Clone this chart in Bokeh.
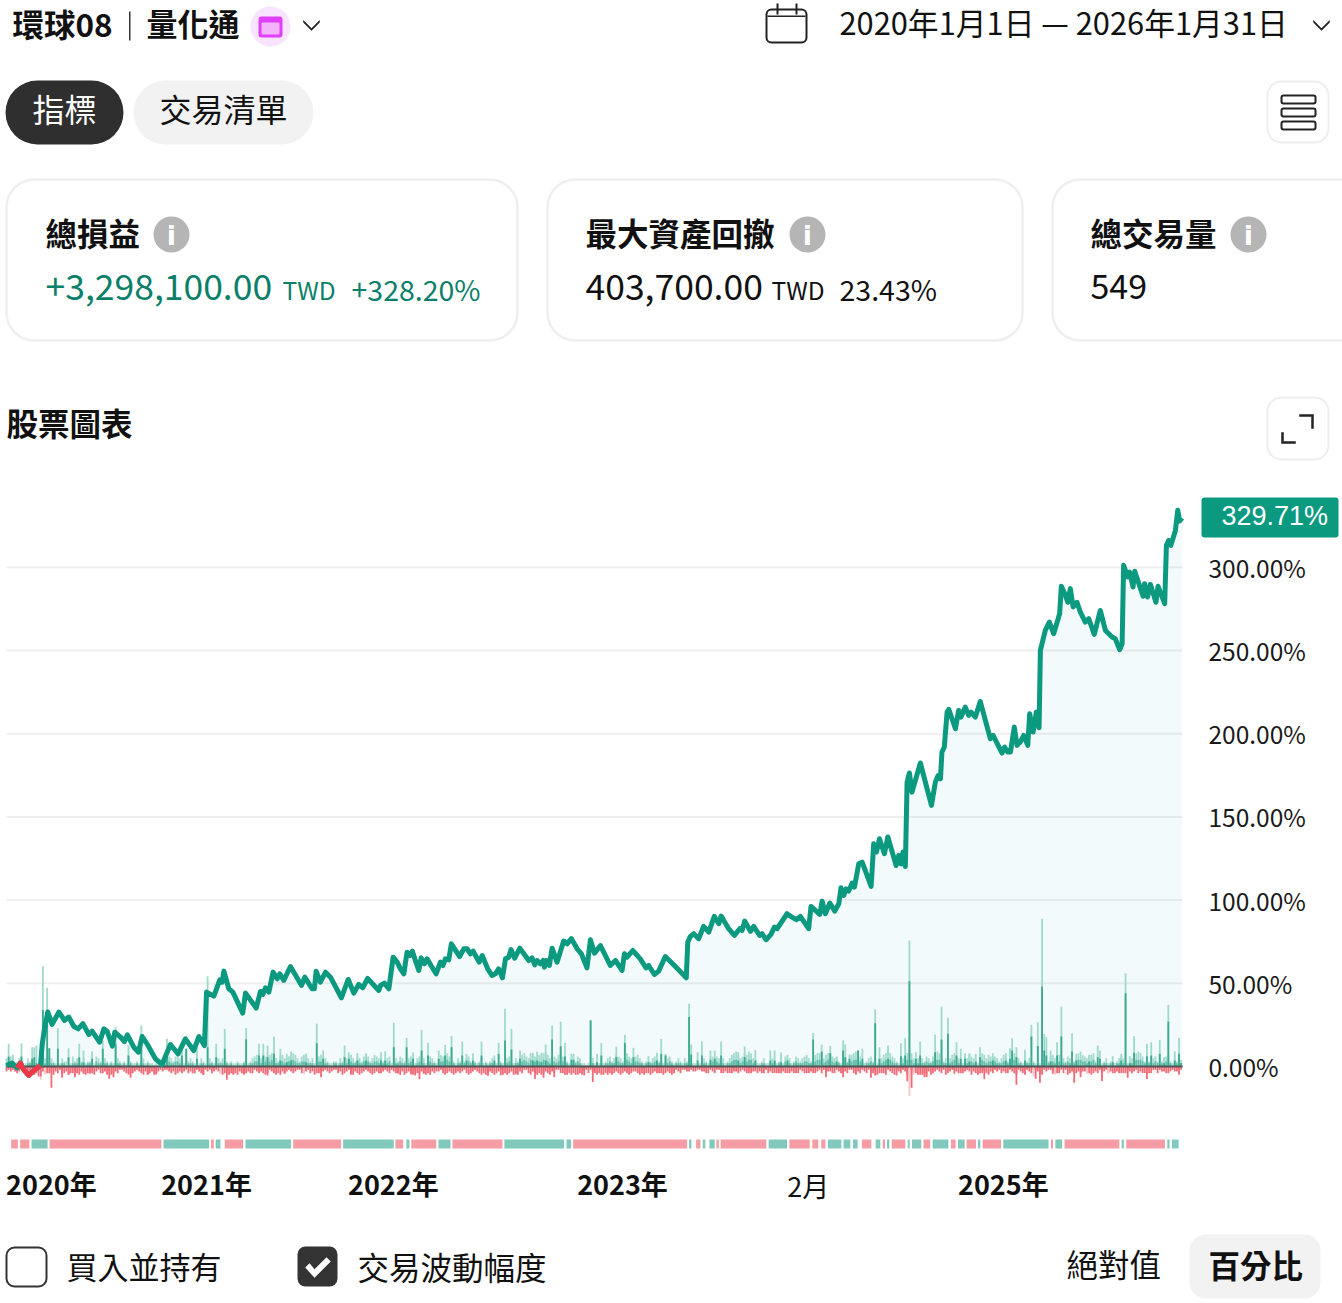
from bokeh.embed import file_html
from bokeh.models import (BoxAnnotation, FixedTicker, Label, PolyAnnotation,
                          PrintfTickFormatter, Range1d)
from bokeh.plotting import figure
from bokeh.resources import INLINE

# return curve, x = trade number, y = percent
line_x = [0, 2.6, 5, 6.5, 8.1, 10.4, 12.8, 15.9, 16.7, 17.9, 19.3, 21.3, 24.5, 27.1, 29.1, 31.5, 33.5, 35.7, 38.5, 40,
          43.5, 45.5, 47, 49.5, 50.6, 53.3, 55.1, 56.5, 59.5, 61.7, 63.4, 65.7, 69.6, 72.7, 76.6, 80.2, 83.6, 87.5, 89.9, 92.5,
          93.5, 96.9, 99.7, 100.8, 101.6, 103.9, 105.8, 110.4, 111.7, 116.7, 118.7, 119.8, 121, 122.6, 124.6, 126.5, 127.7, 129.6, 132.7, 137.9,
          139.4, 142.8, 143.9, 144.7, 146.7, 149.1, 151.4, 153.7, 156.5, 159.7, 162.3, 164.6, 166.5, 168.8, 174, 174.8, 176.6, 178.7, 180.7, 182.6,
          184.1, 185.7, 187.2, 188.5, 189.7, 191.1, 192.7, 193.8, 195.3, 196.6, 198.4, 200.8, 202.8, 204, 205.1, 206.7, 207.9, 211.8, 213.7, 215.3,
          216.8, 218.1, 220.9, 222.3, 224.9, 226.9, 228.5, 230, 231.8, 233.2, 234.7, 235.8, 237.5, 239.9, 244.1, 245.6, 246.9, 248, 249.5, 250.8,
          251.4, 252.2, 253.7, 255, 257.3, 260.4, 262, 264, 266.7, 268.7, 271.3, 272.9, 274.8, 276, 277.6, 282.2, 284.6, 287.7, 288.8, 290,
          292.7, 296.2, 298.9, 300.1, 302.8, 304.8, 307.9, 312.6, 317.7, 318.4, 319.6, 321.2, 323.5, 325.8, 328.2, 330.8, 332.9, 334, 337.5, 340.2,
          342.7, 343.8, 345, 347.7, 349.2, 352, 353.1, 355, 357.3, 358.9, 360.1, 361.7, 364.8, 367.1, 369.1, 371, 374.9, 376, 380.1, 381.2,
          382.7, 384.8, 387.1, 389, 390, 391.3, 392.4, 393.6, 395.2, 396.3, 398.3, 399.9, 404.1, 405.3, 406.6, 408, 410.3, 411.9, 415.8, 417,
          418.1, 419, 420.1, 420.9, 422, 423.2, 427.1, 432.3, 434.1, 435.4, 436.5, 437.2, 438.3, 439.6, 440.4, 443.5, 445, 446.1, 448.1, 449.7,
          450.8, 452.8, 455.1, 457.5, 459.8, 461.1, 465.3, 466.5, 467.9, 469.2, 471, 472.3, 473.8, 475.4, 477.3, 478.2, 479.8, 481.3, 482.6, 483.2,
          485.5, 487.4, 489.4, 492.2, 493, 494.9, 496, 497.2, 498.5, 500.3, 501.9, 504.2, 505.8, 508.4, 511.2, 513.6, 516.7, 518.2, 520.3, 521.4,
          522.1, 524, 524.9, 526.5, 527.3, 531.2, 531.9, 533.3, 534.6, 537.2, 538.2, 541.3, 542.1, 543.2, 544.2, 546.3, 547.4, 548.3, 549.4]
line_pct = [0.6, 2, -0.8, 2, -2, -5.4, -2.4, 0.6, 13.6, 23.6, 32.7, 25.3, 32.7, 27.7, 29.7, 24, 22.6, 25.7, 19.2, 21.2,
            14.6, 22.6, 21.2, 12.2, 20.6, 17.6, 15, 19, 11.6, 8.6, 18, 13.6, 4.6, 1.2, 13.2, 7.6, 16.6, 9.6, 18, 12.6,
            44.7, 42.3, 52.1, 50.7, 57.3, 46.7, 44.7, 32.1, 44.1, 35.1, 45.1, 43.3, 47.3, 44.7, 56.7, 52.7, 55.7, 51.7, 60.1, 48.7,
            53.7, 46.7, 46.7, 57.3, 50.7, 56.7, 53.7, 48.1, 41.3, 52.3, 44.1, 49.3, 47.3, 52.9, 45.7, 48.7, 50.1, 46.7, 65.7, 62.7,
            58.7, 55.7, 68.7, 66.7, 69.3, 63.7, 57.7, 65.3, 61.7, 64.7, 60.7, 55.7, 62.7, 60.7, 64.7, 64.1, 73.7, 66.1, 70.7, 70.7,
            67.7, 69.3, 62.7, 66.7, 58.7, 54.7, 55.7, 58.7, 53.3, 64.7, 65.7, 70.3, 65.1, 71.1, 63.7, 65.3, 61.1, 63.7, 61.7, 63.7,
            59.7, 63.7, 60.7, 71.1, 62.7, 75.4, 73.7, 76.8, 70.7, 67.7, 59.3, 76.2, 68.1, 70.1, 72.7, 60.7, 63.7, 57.7, 67.7, 65.7,
            69.7, 64.7, 59.3, 60.7, 55.3, 57.3, 66.1, 60.1, 53.3, 74.7, 78.2, 79.8, 76.8, 84.2, 80.8, 90.2, 85.8, 90.4, 82.8, 78.8,
            82.8, 81.8, 87.4, 81.2, 84.2, 78.8, 79.8, 76.2, 79.4, 83.8, 82.8, 85.8, 91.8, 89.8, 88.2, 90.2, 82.8, 96.2, 91.4, 99.4,
            91.8, 98.2, 93.4, 97.8, 107.4, 102.8, 106.8, 105.4, 110.2, 107.8, 121.8, 122.8, 108.2, 133.9, 128.9, 136.9, 127.9, 137.9, 120.8, 126.9,
            121.8, 128.9, 120.2, 170.9, 176.4, 164.9, 182.4, 156.9, 170.9, 174.9, 172.9, 189, 192, 213, 214.6, 203, 214, 210, 216, 211,
            213, 210, 219.4, 208, 197, 199, 188.4, 192, 189, 189, 204, 193, 195, 199, 193, 212, 201, 213, 203.6, 250.1,
            262.1, 267.1, 260.1, 272.1, 288.6, 283.2, 279, 287.2, 276.2, 279, 273.1, 267.1, 269.1, 259.7, 274.1, 262.1, 258.1, 257.1, 250.5, 254.1,
            301.2, 294.2, 297.2, 288.2, 297.6, 282.6, 290.2, 282.2, 289.8, 279, 288.6, 278.2, 313.2, 316.2, 313.2, 322.2, 334.3, 327.9, 329.71]

# trade excursion bars, one value per trade, percent
low_high = [5,5,6,2,2,3,5,3,2,2,5,3,3,5,2,2,1,1,5,3,6,5,3,2,5,2,5,3,3,2,2,6,3,5,2,3,5,2,3,3,5,2,6,5,3,2,5,3,2,3,
            2,3,5,3,2,3,2,5,3,2,2,3,2,3,5,2,3,2,2,1,2,1,2,3,5,5,6,5,3,6,7,5,3,2,6,3,5,3,2,3,2,5,3,2,2,5,3,2,3,5,
            3,5,2,3,2,3,2,2,3,2,2,3,5,2,3,5,6,7,6,5,7,6,5,7,8,7,5,3,6,7,5,3,6,7,8,7,5,3,6,7,6,5,3,5,2,3,6,7,6,5,
            3,2,2,3,3,2,5,3,2,5,6,7,5,3,6,5,3,6,7,6,3,5,7,6,5,6,3,3,5,6,2,3,5,3,6,5,3,2,5,6,3,2,5,6,3,5,2,3,6,5,
            3,2,5,7,6,3,8,6,5,3,2,5,3,2,3,5,6,3,2,3,2,3,5,2,3,2,3,5,3,2,2,3,2,3,5,6,3,2,5,3,2,7,8,6,5,8,3,6,5,7,
            5,8,9,7,5,3,6,5,7,8,6,5,3,2,2,5,3,6,5,2,2,1,2,3,5,2,3,2,3,2,3,5,6,3,5,7,6,5,3,6,8,6,5,3,6,7,5,3,2,3,
            2,3,5,6,5,3,5,2,3,5,6,3,2,3,5,3,2,5,3,2,3,2,2,1,2,3,5,3,2,5,6,5,6,5,3,5,2,3,5,7,8,9,7,5,6,8,7,9,8,5,
            3,2,2,3,5,2,2,3,5,3,2,3,5,2,6,3,5,2,3,6,5,3,5,6,7,5,3,6,7,8,8,6,5,7,8,8,6,5,6,3,2,3,5,3,5,7,8,9,7,6,
            3,2,3,5,6,3,2,2,3,5,7,8,9,8,6,5,3,2,3,5,6,8,9,8,5,3,5,2,5,3,6,5,3,6,8,9,8,6,3,5,6,5,7,8,6,5,3,2,6,5,
            7,6,5,3,2,6,8,7,5,7,6,8,6,5,3,5,7,6,3,5,7,8,6,5,3,2,2,3,5,2,3,2,1,2,3,5,2,3,6,7,5,8,7,6,5,3,6,5,7,3,
            5,8,9,7,6,5,6,7,8,3,2,1,2,3,5,2,3,2,2,3,5,6,5,3,2,3,5,7,8,9,8,6,3,2,3,2,5,6,3,2,3,5,6,5,3,2,5,3,2,3]
low_mid = [2,3,2,0,0,2,2,2,0,0,2,2,2,2,0,0,0,0,2,2,3,2,2,0,2,0,2,2,0,0,0,2,2,2,0,2,2,0,2,2,2,0,3,2,2,0,2,2,0,2,
           0,2,2,2,0,2,0,2,2,0,0,2,0,2,2,0,2,0,0,0,0,0,0,2,2,2,3,2,2,3,3,2,2,0,3,2,2,2,0,2,0,2,2,0,0,2,2,0,2,2,
           2,2,0,2,0,2,0,0,2,0,0,2,2,0,2,2,3,3,3,2,3,3,2,3,4,3,2,2,3,3,2,2,3,3,4,3,2,2,3,3,3,2,2,2,0,2,3,3,3,2,
           2,0,0,2,2,0,2,2,0,2,3,3,2,2,3,2,2,3,3,3,2,2,3,3,2,3,2,2,2,3,0,2,2,2,3,2,2,0,2,3,2,0,2,3,2,2,0,2,3,2,
           2,0,2,3,3,2,4,3,2,2,0,2,2,0,2,2,3,2,0,2,0,2,2,0,2,0,2,2,2,0,0,2,0,2,2,3,2,0,2,2,0,3,4,3,2,4,2,3,2,3,
           2,4,4,3,2,2,3,2,3,4,3,2,2,0,0,2,2,3,2,0,0,0,0,2,2,0,2,0,2,0,2,2,3,2,2,3,3,2,2,3,4,3,2,2,3,3,2,2,0,2,
           0,2,2,3,2,2,2,0,2,2,3,2,0,2,2,2,0,2,2,0,2,0,0,0,0,2,2,2,0,2,3,2,3,2,2,2,0,2,2,3,4,4,3,2,3,4,3,4,4,2,
           2,0,0,2,2,0,0,2,2,2,0,2,2,0,3,2,2,0,2,3,2,2,2,3,3,2,2,3,3,4,4,3,2,3,4,4,3,2,3,2,0,2,2,2,2,3,4,4,3,3,
           2,0,2,2,3,2,0,0,2,2,3,4,4,4,3,2,2,0,2,2,3,4,4,4,2,2,2,0,2,2,3,2,2,3,4,4,4,3,2,2,3,2,3,4,3,2,2,0,3,2,
           3,3,2,2,0,3,4,3,2,3,3,4,3,2,2,2,3,3,2,2,3,4,3,2,2,0,0,2,2,0,2,0,0,0,2,2,0,2,3,3,2,4,3,3,2,2,3,2,3,2,
           2,4,4,3,3,2,3,3,4,2,0,0,0,2,2,0,2,0,0,2,2,3,2,2,0,2,2,3,4,4,4,3,2,0,2,0,2,3,2,0,2,2,3,2,2,0,2,2,0,2]
low_drop = [3,2,3,2,3,4,3,2,3,4,5,3,4,5,4,6,4,3,3,4,4,3,5,3,4,2,5,4,3,5,4,4,3,4,5,3,4,5,4,3,4,5,3,2,4,4,3,5,3,5,
            4,3,4,2,2,3,4,5,4,4,3,2,3,4,5,3,5,4,3,5,4,3,2,3,2,2,3,4,3,5,4,3,4,3,2,4,3,4,4,2,3,4,5,2,3,2,4,3,2,3,
            4,5,4,3,5,4,5,4,5,3,4,5,4,3,4,4,2,3,4,3,4,5,4,2,3,4,5,4,5,3,4,3,2,3,4,3,2,2,4,4,3,2,4,3,5,4,4,3,3,2,
            3,4,3,2,2,4,3,5,4,3,2,4,5,3,4,5,4,3,2,3,4,5,4,3,4,4,3,2,3,4,2,3,4,4,5,3,5,4,3,4,5,3,4,4,3,4,5,4,5,3,
            4,3,3,2,4,5,4,3,4,5,4,3,4,3,2,4,5,4,3,2,3,4,5,4,5,5,3,4,5,4,3,2,5,4,5,4,3,5,4,5,3,4,2,2,4,5,3,4,5,4,
            5,4,3,4,5,3,4,2,2,4,4,5,5,4,5,4,5,5,4,5,3,2,4,2,3,4,5,4,5,5,4,3,4,5,4,3,4,5,4,3,4,5,4,3,3,4,5,4,5,4,
            4,5,4,3,4,4,4,5,4,3,4,5,4,2,3,4,2,2,3,3,2,3,3,2,2,3,3,4,4,2,3,4,2,2,4,4,3,4,4,4,3,3,4,3,2,3,4,4,4,3,
            3,4,3,4,4,2,4,3,4,4,4,4,4,3,4,4,4,3,4,4,4,2,3,4,4,4,3,4,4,3,2,4,2,3,3,3,4,4,2,3,4,4,3,4,2,2,4,5,3,4,
            2,3,4,2,3,4,2,5,4,4,4,5,2,3,4,5,2,3,4,2,3,5,2,4,3,4,5,5,5,4,5,3,5,4,3,2,3,4,2,5,4,3,2,2,3,4,4,4,3,2,
            3,5,3,4,5,4,4,3,4,5,3,4,2,3,2,4,3,4,4,2,3,4,5,2,3,4,5,2,3,4,2,2,3,4,5,2,3,2,2,3,4,4,4,2,4,2,5,4,3,4,
            4,3,4,3,3,4,4,5,4,3,4,2,4,3,2,4,3,4,4,3,4,4,4,4,2,3,4,3,2,4,3,4,4,2,4,4,2,2,4,2,3,3,4,4,3,2,3,3,2,2]

# the taller bars, read one by one
spike_i = [1,3,7,12,13,14,17,19,20,24,29,34,36,40,45,51,57,63,75,82,84,89,94,98,102,112,118,120,122,125,128,131,133,140,145,148,158,160,164,168,
           175,177,181,187,190,194,197,202,205,208,213,215,218,222,228,230,233,236,240,246,248,250,252,255,259,261,264,265,273,276,278,285,289,293,300,304,306,308,319,320,
           323,325,329,331,334,342,345,350,357,359,362,365,377,381,385,388,391,392,394,398,400,406,408,412,418,420,422,425,427,434,437,440,444,446,448,450,453,455,461,467,
           469,470,472,476,479,482,484,485,486,488,491,493,498,500,506,510,511,517,521,523,525,527,533,535,539,541,543,546,548,549]
spike_high = [13.6,7,14,11.6,11.6,12.6,60.3,47.3,11,23,11,13.6,9.6,9,15.6,23.6,12.6,24.6,16.6,13.6,10.6,11.6,54.3,13.6,22.6,23.2,13.6,13.6,12.6,18,10.6,7.6,9,7.6,25.7,9.6,12.6,8.6,8,8,
              8.6,9.2,26.3,17.2,8.6,22,14.2,9.6,13,18.4,15,7.6,8,15,6.6,14.2,34.7,22.6,9.6,8.2,9,8.2,13.2,24.6,26.9,14.2,7.6,7.6,27.7,7.6,14.2,12,19,11.2,6.2,8.2,16.6,7.6,37.7,13.2,
              8.6,15,9.6,9.6,15,8.6,12,10,9.6,9.6,8.6,7,20.2,13.2,12.4,5.6,15.6,13.2,7.2,9.6,10.6,34.3,11.6,12.6,14,17,75.8,8.6,15,19.2,36,29.3,14.6,10.6,8,8,7.6,11.6,6.2,8,
              11,17,11.6,10,25,26.6,88.8,19.6,17.6,9.6,14.6,36,20,7.6,7,12.6,9.6,6.2,7.6,56,6.2,18.2,13.6,14.6,16,5.6,37,9.2,17.2,4]
spike_mid = [6,2.6,6,4.6,5.6,2,34,25.7,11,10.6,5.6,5.6,2.6,4.6,10.6,13.6,6.6,12,6,6.6,10.6,4.6,11.6,5.6,10.6,16.4,6.6,6.6,5.6,7.6,3.6,2.6,3.6,2.6,14,4.6,5.6,4.6,3.6,3.6,
             3.6,3.6,11.6,11.6,4.6,9.6,6.6,4.6,6.6,11.6,6.6,3.6,3.6,6.6,3.6,7.6,15.6,10.2,4.6,3.6,3.6,2.6,3.6,16.2,12.2,6,4,4,27.7,2.6,6.6,5.6,14.2,5.6,2.6,3.6,7.6,6.6,29.7,7.2,
             3.6,6.6,4,4.6,6.6,3.6,5.6,3.6,3.6,3.6,2.6,3.6,16.2,9,8,3,9.6,5.6,4.6,9.6,4.6,26,4.6,4.6,6.2,6.6,51.3,4.6,6.6,8.6,16.2,19.6,6.6,4.6,4.6,3,3,5.6,3.6,3.6,
             4.6,9.6,5.6,3.6,18,12.2,48,9.6,6.6,3,6.6,18,9,3.6,3,5.6,4.6,2.6,3.6,44,2,8.2,6.2,6.6,7.6,2,27,3.6,7.6,2]
drop_i = [16,21,26,29,32,36,39,48,50,58,66,70,92,103,106,111,122,130,147,161,183,189,191,193,195,225,231,238,247,251,256,270,274,281,383,391,404,406,416,421,423,429,430,443,457,472,481,483,489,499,502,512,524,533,548]
drop_val = [-6,-12.8,-6.8,-5,-6.4,-4.4,-4.4,-7.4,-6.4,-6.8,-4.8,-4.8,-5,-8,-4.4,-4.4,-5.4,-4.4,-6.4,-5,-4,-4.8,-5.4,-7.6,-4.4,-5.6,-5.4,-4.8,-7.6,-6.8,-6.4,-5.4,-9.4,-5,-6.4,-6.4,-6.8,-5.4,-5.4,-8.8,-12.8,-6.4,-6.4,-4.4,-7.6,-11,-7.4,-9.8,-4.4,-9.8,-6.4,-8.8,-6.8,-7.6,-5]
pale_i = [16,18,100,139,422,424,480,490,505,515]
pale_val = [-8,-5,-4,-4,-17.8,-5,-6,-5,-4,-4]

# win/loss strip below the chart
strip_start = [2.2,6.4,11.7,20.1,73.4,95.6,97.8,102,111.7,134,157.3,181.8,186.9,189.2,201.9,208.4,232.7,261.7,264.8,319,322.3,325.4,328.5,331.8,333.8,356.2,365.9,376.6,380.8,383.9,391.2,395.6,399.8,406.2,409.5,411.5,413.7,421.2,423.2,428.6,432.8,441.4,444.7,448.7,454,456.2,465.9,488.1,490.2,494.5,521.2,523.3,542.5,544.7]
strip_end = [5.3,10.7,19.2,72.4,94.7,96.9,100,110.6,133,156.4,181,185.4,188.3,200.9,207.5,231.8,260.6,263.9,318.1,320.1,324.3,326.6,331,332.9,355.1,364.8,375.4,379.4,382.8,390.2,394.4,397.8,404.2,408.4,410.6,412.6,420.1,422.1,427.5,431.7,440.2,443.6,447.8,453.1,455.1,464.8,487,489.1,493.4,520.1,522.2,541.4,543.6,547.8]
strip_win = [0,0,1,0,1,0,1,0,1,0,1,0,1,0,1,0,1,1,0,1,0,1,1,0,0,1,0,0,0,1,1,1,0,1,0,1,0,1,1,0,1,0,1,0,1,0,1,0,1,0,1,0,1,1]

year_ticks = [21, 93.5, 180.8, 287.9, 465.9]
year_labels = ["2020年", "2021年", "2022年", "2023年", "2025年"]
month_tick = 375.2
month_label = "2月"
pct_ticks = [0, 50, 100, 150, 200, 250, 300]
last_trade = 549.6

CJK = "Noto Sans CJK TC"
GREEN = "#0b9a80"
BAR_W = 0.85

# annotations get clipped to the frame, so the frame fills the whole page
p = figure(width=1342, height=1303, output_backend="svg", toolbar_location=None,
           frame_width=1342, frame_height=1303, min_border=0, margin=0, y_axis_location="right",
           x_range=Range1d(-2.804, 624.4), y_range=Range1d(-142.46, 640.7))
p.outline_line_color = None
p.border_fill_color = "white"
p.grid.visible = False
p.extra_y_ranges["page_y"] = Range1d(1303, 0)

y_ax = p.yaxis[0]
y_ax.fixed_location = last_trade
y_ax.ticker = FixedTicker(ticks=pct_ticks)
y_ax.formatter = PrintfTickFormatter(format="%.2f%%")
y_ax.axis_line_color = None
y_ax.major_tick_line_color = None
y_ax.minor_tick_line_color = None
y_ax.major_tick_out = 0
y_ax.major_label_standoff = 26
y_ax.major_label_text_font = CJK
y_ax.major_label_text_font_size = "24.5px"
y_ax.major_label_text_color = "#1a1a1a"

x_ax = p.xaxis[0]
x_ax.fixed_location = -50.5
x_ax.ticker = FixedTicker(ticks=year_ticks)
x_ax.major_label_overrides = dict(zip(year_ticks, year_labels))
x_ax.axis_line_color = None
x_ax.major_tick_line_color = None
x_ax.minor_tick_line_color = None
x_ax.major_tick_out = 0
x_ax.major_label_standoff = 14
x_ax.major_label_text_font = CJK
x_ax.major_label_text_font_style = "bold"
x_ax.major_label_text_font_size = "27px"
x_ax.major_label_text_color = "#111111"

# grid, area, bars, baseline, curve
p.segment(0, pct_ticks, last_trade, pct_ticks, line_color="#efefef", line_width=2)
p.varea(line_x, [0] * len(line_x), [max(v, 0) for v in line_pct], fill_color="#0a9bb0", fill_alpha=0.05)

trades = list(range(len(low_high)))
p.vbar(trades, BAR_W, low_high, 0, color="#a6dccf", line_color=None)
p.vbar(trades, BAR_W, low_mid, 0, color="#62bda9", line_color=None)
p.vbar(trades, BAR_W, [-v for v in low_drop], 0, color="#f26a76", line_color=None)
p.vbar(spike_i, BAR_W, spike_high, 0, color="#a0dacc", line_color=None)
p.vbar(spike_i, BAR_W, spike_mid, 0, color="#3caa92", line_color=None)
p.vbar(pale_i, BAR_W, pale_val, 0, color="#f9c8ce", line_color=None)
p.vbar(drop_i, BAR_W, drop_val, 0, color="#f26a76", line_color=None)

p.segment(0, 0, last_trade, 0, line_color="#555555", line_width=2)
p.line(line_x, line_pct, line_color=GREEN, line_width=5, line_join="round")
neg = [i for i, v in enumerate(line_pct) if v < 0]
red = range(neg[0], neg[-1] + 2)
p.line([line_x[i] for i in red], [line_pct[i] for i in red], line_color="#f23645", line_width=5, line_join="round")

p.quad(left=strip_start, right=strip_end, top=1139, bottom=1148, y_range_name="page_y",
       color=["#80c9bc" if w else "#f69ca5" for w in strip_win], line_color=None)


def text(x, y, s, size, color="#111111", style="normal", font=CJK, align="left"):
    p.add_layout(Label(x=x - 1, y=y - 3, x_units="canvas", y_units="canvas", text=s, text_font=font,
                       text_font_size=f"{size}px", text_color=color, text_font_style=style,
                       text_align=align, text_baseline="middle"))


def box(left, right, top, bottom, fill="white", line=None, width=2, radius=0):
    p.add_layout(BoxAnnotation(left=left - 1, right=right - 1, top=top, bottom=bottom, left_units="canvas",
                               right_units="canvas", top_units="canvas", bottom_units="canvas",
                               fill_color=fill, fill_alpha=1, line_color=line,
                               line_alpha=1 if line else 0, line_width=width, border_radius=radius))


def shape(xs, ys, fill="#222222"):
    p.add_layout(PolyAnnotation(xs=[x - 1 for x in xs], ys=ys, xs_units="canvas", ys_units="canvas",
                                fill_color=fill, fill_alpha=1, line_color=fill, line_alpha=1, line_width=0.5))


def chevron(cx, cy):
    shape([cx - 8, cx, cx + 8, cx + 8, cx, cx - 8], [cy - 4, cy + 4, cy - 4, cy - 2, cy + 6, cy - 2])


def info(cx, cy):
    box(cx - 18, cx + 18, cy - 18, cy + 18, fill="#b5b5b5", radius=18)
    text(cx, cy + 4, "i", 27, color="white", style="bold", font="DejaVu Sans", align="center")


# header row
text(13, 25, "環球08", 31.5, style="bold")
box(129.5, 131, 11, 40, fill="#333333")
text(147, 25, "量化通", 31, style="bold")
box(251, 291, 6, 46, fill="#f9e4ff", radius=20)
box(259, 283, 16, 37, fill="#e040fb", radius=3)
box(262, 280, 22, 34, fill="#f3b4fb", radius=1)
chevron(312, 24)
box(767, 807, 9, 42, fill="white", line="#222222", width=2, radius=5)
box(768, 806, 15, 16.5, fill="#222222")
box(777, 779, 3, 14, fill="#222222")
box(796, 798, 3, 14, fill="#222222")
text(840, 24, "2020年1月1日 — 2026年1月31日", 30.8)
chevron(1322, 24)

# tabs
box(6, 124, 80, 144, fill="#2f2f2f", radius=32)
text(65, 110, "指標", 32, color="white", align="center")
box(134, 314, 80, 144, fill="#f2f2f2", radius=32)
text(224, 110, "交易清單", 32, align="center")
box(1268, 1329, 81, 142, fill="white", line="#eeeeee", width=2, radius=14)
box(1282, 1316, 95, 103, fill="white", line="#222222", width=2, radius=2)
box(1282, 1316, 108, 116, fill="white", line="#222222", width=2, radius=2)
box(1282, 1316, 121, 129, fill="white", line="#222222", width=2, radius=2)

# stat cards
box(7, 518, 179, 340, fill="white", line="#efefef", width=2.5, radius=28)
box(548, 1023, 179, 340, fill="white", line="#efefef", width=2.5, radius=28)
box(1053, 1372, 179, 340, fill="white", line="#efefef", width=2.5, radius=28)
text(46, 234, "總損益", 31.5, style="bold")
info(172, 234)
text(586, 234, "最大資產回撤", 31.5, style="bold")
info(808, 234)
text(1091, 234, "總交易量", 31.5, style="bold")
info(1249, 234)
text(46, 289, "+3,298,100.00", 35.5, color="#0b7f69")
text(283, 292, "TWD", 24.5, color="#0b7f69")
text(352, 291, "+328.20%", 28.5, color="#0b7f69")
text(586, 289, "403,700.00", 35.5)
text(772, 292, "TWD", 24.5)
text(840, 291, "23.43%", 28.5)
text(1091, 289, "549", 34)

# chart heading
text(7, 424, "股票圖表", 31.5, style="bold")
box(1268, 1329, 397, 459, fill="white", line="#eeeeee", width=2, radius=14)
shape([1300, 1314, 1314, 1312, 1312, 1300], [414, 414, 428, 428, 416, 416])
shape([1282, 1284, 1284, 1296, 1296, 1282], [432, 432, 441, 441, 443, 443])

# latest value badge
box(1202, 1339, 497, 537, fill=GREEN, radius=3)
text(1222, 518, "329.71%", 27, color="white", font="Liberation Sans")

text(6 + month_tick * 1176 / last_trade, 1188, month_label, 27, align="center")

# footer controls
box(7, 47, 1247, 1286, fill="white", line="#333333", width=2, radius=8)
text(67, 1268, "買入並持有", 31)
box(298, 338, 1246, 1286, fill="#333333", radius=8)
shape([306, 310, 315, 327, 331, 315], [1267, 1263, 1269, 1257, 1261, 1277], fill="white")
text(358, 1268, "交易波動幅度", 31.5)
text(1067, 1265, "絕對值", 31.5)
box(1190, 1321, 1234, 1298, fill="#f2f2f2", radius=16)
text(1209, 1266, "百分比", 31.5, style="bold")

open("out.html", "w").write(file_html(p, INLINE))
